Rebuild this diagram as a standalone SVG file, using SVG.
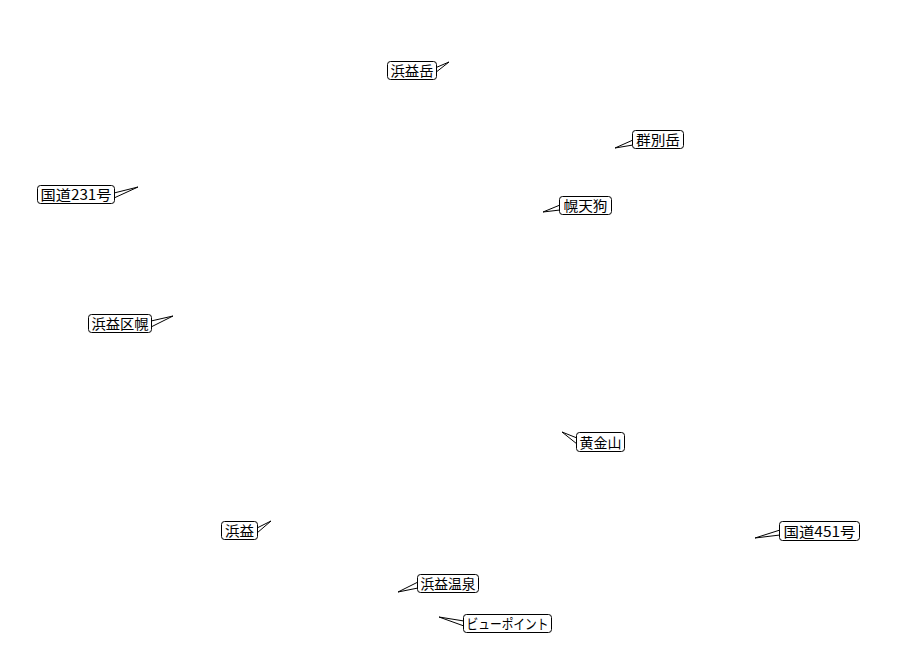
<svg xmlns="http://www.w3.org/2000/svg" width="897" height="647" viewBox="0 0 897 647">
<style>
.box{fill:#fff;stroke:#000;stroke-width:1}
.ptr{fill:#fff;stroke:#000;stroke-width:1;stroke-linejoin:miter}
.lbl{font-family:"Noto Sans CJK JP","Noto Sans CJK SC",sans-serif;font-size:14px;fill:#000;text-anchor:middle}
</style>
<rect width="897" height="647" fill="#fff"/>
<g id="connectors">
<path class="ptr" d="M435,68 L449,62 L435,73"/>
<path class="ptr" d="M633,140 L615,148 L633,145"/>
<path class="ptr" d="M560,205 L543,212 L560,210"/>
<path class="ptr" d="M114,193 L138,187 L114,198"/>
<path class="ptr" d="M151,321 L173,316 L151,327"/>
<path class="ptr" d="M577,438 L562,432 L577,444"/>
<path class="ptr" d="M257,528 L271,521 L257,533"/>
<path class="ptr" d="M780,530 L755,538 L780,535"/>
<path class="ptr" d="M418,582 L398,592 L418,588"/>
<path class="ptr" d="M464,621 L439,617 L464,626"/>
</g>
<g id="n1"><rect class="box" x="387.5" y="61.5" width="49" height="18" rx="3"/><text class="lbl" x="412" y="76" textLength="43" lengthAdjust="spacingAndGlyphs">浜益岳</text></g>
<g id="n2"><rect class="box" x="632.5" y="130.5" width="51" height="18" rx="3"/><text class="lbl" x="658" y="145" textLength="44" lengthAdjust="spacingAndGlyphs">群別岳</text></g>
<g id="n3"><rect class="box" x="559.5" y="196.5" width="52" height="18" rx="3"/><text class="lbl" x="585.5" y="211" textLength="44" lengthAdjust="spacingAndGlyphs">幌天狗</text></g>
<g id="n4"><rect class="box" x="37.5" y="185.5" width="77" height="18" rx="3"/><text class="lbl" x="76" y="200" textLength="71" lengthAdjust="spacingAndGlyphs">国道231号</text></g>
<g id="n5"><rect class="box" x="88.5" y="314.5" width="63" height="18" rx="3"/><text class="lbl" x="120" y="329" textLength="57" lengthAdjust="spacingAndGlyphs">浜益区幌</text></g>
<g id="n6"><rect class="box" x="576.5" y="432.5" width="48" height="19" rx="3"/><text class="lbl" x="600.5" y="447.5" textLength="42" lengthAdjust="spacingAndGlyphs">黄金山</text></g>
<g id="n7"><rect class="box" x="221.5" y="521.5" width="36" height="18" rx="3"/><text class="lbl" x="239.5" y="536" textLength="29" lengthAdjust="spacingAndGlyphs">浜益</text></g>
<g id="n8"><rect class="box" x="779.5" y="521.5" width="80" height="19" rx="3"/><text class="lbl" x="819.5" y="536.5" textLength="72" lengthAdjust="spacingAndGlyphs">国道451号</text></g>
<g id="n9"><rect class="box" x="417.5" y="574.5" width="61" height="18" rx="3"/><text class="lbl" x="448" y="589" textLength="55" lengthAdjust="spacingAndGlyphs">浜益温泉</text></g>
<g id="n10"><rect class="box" x="463.5" y="614.5" width="88" height="18" rx="3"/><text class="lbl" x="507.5" y="629" textLength="82" lengthAdjust="spacingAndGlyphs">ビューポイント</text></g>
</svg>
